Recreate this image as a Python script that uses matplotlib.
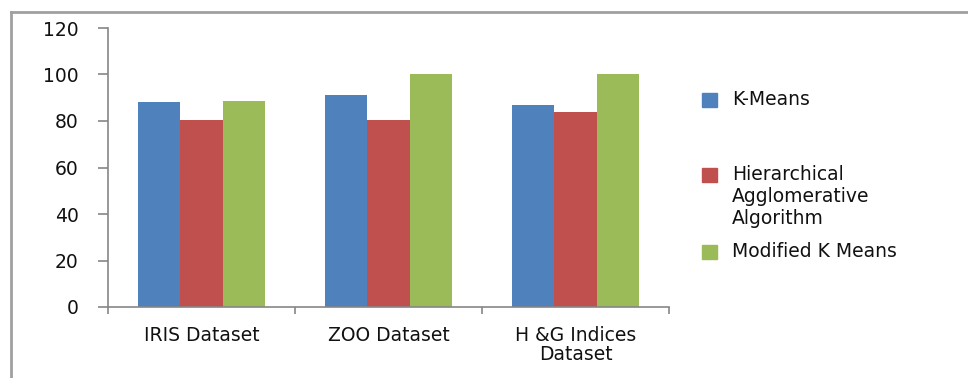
import numpy as np
import matplotlib.pyplot as plt
from matplotlib.patches import Rectangle
from matplotlib.lines import Line2D

# data
datasets = ['IRIS Dataset', 'ZOO Dataset', 'H &G Indices\nDataset']
series = ['K-Means', 'Hierarchical\nAgglomerative\nAlgorithm', 'Modified K Means']
kmeans = [88, 91, 87]
hierarchical = [80.5, 80.5, 84]
modified = [88.5, 100, 100]
colors = ['#4F81BD', '#C0504D', '#9BBB59']

values = [kmeans, hierarchical, modified]

W, H = 968, 378
fig = plt.figure(figsize=(W / 100, H / 100), dpi=100)
fig.patch.set_facecolor('white')

# outer chart frame (top and left edges visible)
fig.add_artist(Line2D([11 / W, 11 / W], [0, 1 - 12 / H], transform=fig.transFigure,
                      color='#a0a0a0', lw=2))
fig.add_artist(Line2D([11 / W, 1], [1 - 12 / H, 1 - 12 / H], transform=fig.transFigure,
                      color='#a0a0a0', lw=2))

ax = fig.add_axes([108 / W, (H - 307) / H, (669 - 108) / W, (307 - 28) / H])

x = np.arange(len(datasets))
bw = 0.225
for i, (vals, c) in enumerate(zip(values, colors)):
    ax.bar(x + (i - 1) * bw, vals, bw, color=c, edgecolor='none')

ax.set_xlim(-0.5, len(datasets) - 0.5)
ax.set_ylim(0, 120)
ax.set_yticks(range(0, 121, 20))

for s in ['top', 'right']:
    ax.spines[s].set_visible(False)
for s in ['left', 'bottom']:
    ax.spines[s].set_color('#868686')
    ax.spines[s].set_linewidth(1.2)

fs = 13.5
ax.tick_params(axis='y', length=7, width=1.2, color='#868686', pad=14,
               labelsize=fs, labelcolor='#111111')
# category boundary ticks
ax.set_xticks(np.arange(-0.5, len(datasets), 1))
ax.set_xticklabels([])
ax.set_xticks(x, minor=True)
ax.set_xticklabels(datasets, minor=True, fontsize=fs, color='#111111',
                   linespacing=1.0)
ax.tick_params(axis='x', which='major', length=5, width=1.2, color='#868686')
ax.tick_params(axis='x', which='minor', length=0, pad=14)

# legend
ys = [100, 175, 252]
for name, c, yc in zip(series, colors, ys):
    fig.add_artist(Rectangle((702 / W, 1 - (yc + 7) / H), 15 / W, 14 / H,
                             transform=fig.transFigure, color=c))
    fig.text(732 / W, 1 - (yc - 10) / H, name, fontsize=fs, color='#111111',
             va='top', ha='left', linespacing=1.2)

plt.savefig('out.png', dpi=100)
